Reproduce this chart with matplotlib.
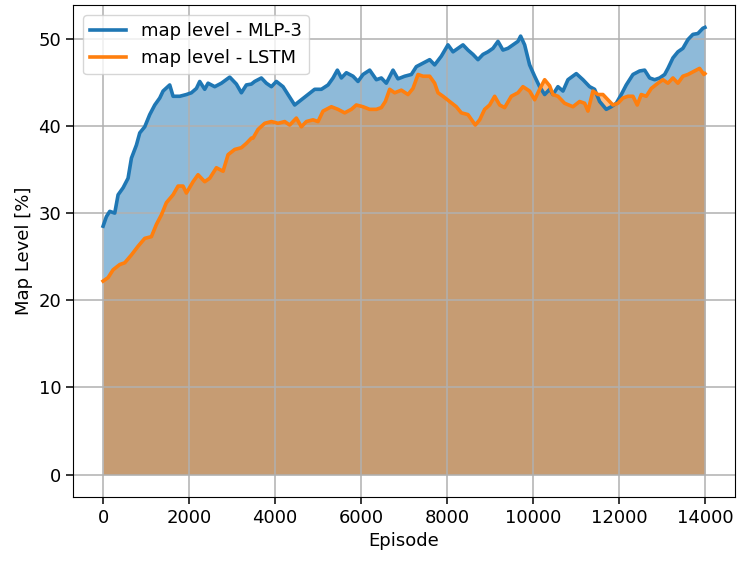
import matplotlib
matplotlib.use("Agg")
import matplotlib.pyplot as plt

mlp_ep = [0, 77, 155, 271, 349, 465, 581, 659, 775, 853, 969, 1085, 1202, 1318, 1395, 1550,
          1628, 1783, 1938, 2054, 2171, 2248, 2364, 2442, 2597, 2752, 2946, 3101, 3217, 3333,
          3450, 3527, 3682, 3798, 3915, 4031, 4186, 4302, 4457, 4612, 4767, 4922, 5078, 5233,
          5349, 5450, 5543, 5659, 5814, 5930, 6047, 6202, 6357, 6473, 6589, 6744, 6860, 7016,
          7171, 7287, 7442, 7597, 7713, 7868, 8023, 8140, 8256, 8372, 8488, 8605, 8721, 8837,
          8953, 9070, 9186, 9302, 9419, 9535, 9651, 9713, 9806, 9922, 10039, 10155, 10272,
          10388, 10465, 10581, 10698, 10814, 11008, 11163, 11318, 11434, 11551, 11705, 11821,
          11938, 12054, 12170, 12326, 12481, 12598, 12714, 12830, 12947, 13063, 13140, 13256,
          13372, 13488, 13605, 13721, 13837, 13953, 14000]
mlp_val = [28.5, 29.6, 30.2, 30.0, 32.1, 32.9, 34.0, 36.3, 37.8, 39.2, 39.9, 41.3, 42.4, 43.2,
           44.0, 44.7, 43.4, 43.4, 43.6, 43.8, 44.3, 45.1, 44.2, 44.9, 44.5, 44.9, 45.6, 44.8,
           43.8, 44.7, 44.8, 45.1, 45.5, 44.9, 44.5, 45.1, 44.5, 43.6, 42.4, 43.0, 43.6, 44.2,
           44.2, 44.7, 45.5, 46.4, 45.5, 46.1, 45.7, 45.1, 45.9, 46.4, 45.3, 45.5, 44.9, 46.4,
           45.4, 45.7, 45.9, 46.8, 47.2, 47.6, 47.0, 48.0, 49.3, 48.5, 48.9, 49.3, 48.7, 48.2,
           47.6, 48.2, 48.5, 48.9, 49.7, 48.7, 48.9, 49.3, 49.7, 50.3, 49.3, 47.0, 45.7, 44.5,
           43.6, 44.2, 43.6, 44.5, 44.0, 45.3, 46.0, 45.3, 44.5, 44.2, 42.8, 41.9, 42.2, 42.6,
           43.6, 44.7, 45.9, 46.3, 46.4, 45.5, 45.3, 45.5, 45.9, 46.6, 47.8, 48.5, 48.9, 49.9,
           50.5, 50.6, 51.2, 51.3]

lstm_ep = [0, 116, 233, 388, 504, 659, 814, 969, 1124, 1240, 1357, 1473, 1628, 1744, 1860,
           1938, 2093, 2209, 2364, 2481, 2636, 2791, 2907, 3062, 3217, 3333, 3450, 3488, 3605,
           3760, 3915, 4070, 4225, 4341, 4496, 4612, 4729, 4884, 5000, 5116, 5310, 5465, 5620,
           5775, 5891, 6047, 6202, 6357, 6473, 6566, 6667, 6783, 6938, 7093, 7209, 7326, 7442,
           7597, 7713, 7791, 7907, 8062, 8217, 8333, 8488, 8659, 8760, 8876, 8992, 9109, 9225,
           9341, 9496, 9651, 9767, 9922, 10039, 10155, 10272, 10388, 10465, 10581, 10736,
           10930, 11085, 11202, 11279, 11395, 11512, 11628, 11744, 11860, 11977, 12093, 12209,
           12326, 12426, 12519, 12636, 12752, 12907, 13023, 13140, 13256, 13372, 13488, 13605,
           13760, 13876, 13977, 14000]
lstm_val = [22.2, 22.6, 23.5, 24.1, 24.3, 25.2, 26.2, 27.1, 27.3, 28.7, 29.8, 31.2, 32.1, 33.1,
            33.1, 32.3, 33.6, 34.4, 33.6, 34.0, 35.2, 34.8, 36.7, 37.3, 37.5, 38.0, 38.6, 38.6,
            39.6, 40.3, 40.5, 40.3, 40.5, 40.1, 40.9, 39.9, 40.5, 40.7, 40.5, 41.7, 42.2, 41.9,
            41.5, 41.9, 42.4, 42.2, 41.9, 41.9, 42.1, 42.8, 44.2, 43.8, 44.1, 43.6, 44.3, 45.9,
            45.7, 45.7, 44.9, 43.8, 43.4, 42.8, 42.2, 41.5, 41.3, 40.1, 40.7, 41.9, 42.4, 43.4,
            42.4, 42.1, 43.4, 43.8, 44.5, 44.0, 43.0, 44.2, 45.3, 44.6, 43.6, 43.4, 42.6, 42.2,
            42.8, 42.6, 41.7, 44.0, 43.6, 43.6, 43.0, 42.4, 42.6, 43.2, 43.4, 43.4, 42.4, 43.6,
            43.4, 44.3, 44.9, 45.3, 44.9, 45.5, 44.9, 45.7, 45.9, 46.3, 46.6, 45.9, 46.0]

plt.rcParams['font.family'] = ['DejaVu Sans']
plt.rcParams['font.size'] = 13

fig = plt.figure(figsize=(7.37, 5.61), dpi=100)
ax = fig.add_axes([73/737, 1 - 497/561, (735 - 73)/737, (497 - 5)/561])

ax.plot(mlp_ep, mlp_val, color='tab:blue', lw=2.6, label='map level - MLP-3')
ax.fill_between(mlp_ep, 0, mlp_val, color='tab:blue', alpha=0.5, lw=0)
ax.plot(lstm_ep, lstm_val, color='tab:orange', lw=2.6, label='map level - LSTM')
ax.fill_between(lstm_ep, 0, lstm_val, color='tab:orange', alpha=0.5, lw=0)

ax.set_xlim(-700, 14700)
ax.set_ylim(-2.565, 53.87)
ax.set_xticks([0, 2000, 4000, 6000, 8000, 10000, 12000, 14000])
ax.set_yticks([0, 10, 20, 30, 40, 50])
ax.tick_params(length=5, width=1.1)
ax.grid(True, color='#b0b0b0', lw=1.1)
ax.set_xlabel('Episode')
ax.set_ylabel('Map Level [%]')
ax.legend(loc='upper left', borderaxespad=0.55)

fig.savefig('out.png', dpi=100)
